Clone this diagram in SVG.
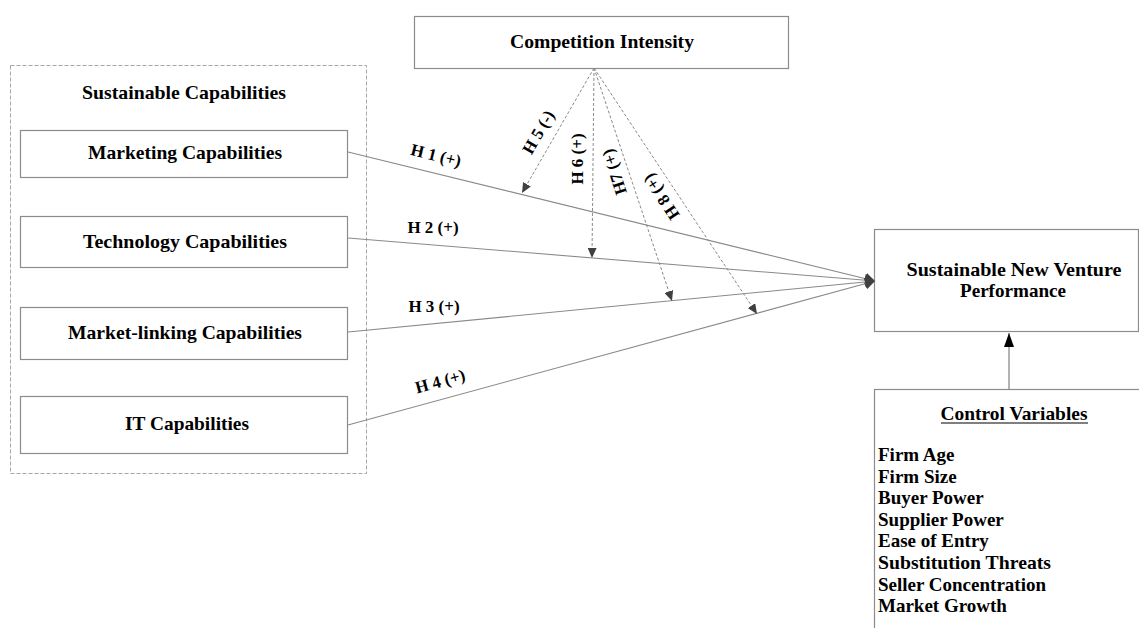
<svg xmlns="http://www.w3.org/2000/svg" width="1139" height="628" viewBox="0 0 1139 628">
<style>
  text { font-family: "Liberation Serif", "Times New Roman", serif; font-weight: bold; fill: #000; }
  .t { font-size: 19px; text-anchor: middle; }
  .h { font-size: 17px; text-anchor: middle; }
  .cv { font-size: 19px; }
  .box { fill: #fff; stroke: #8c8c8c; stroke-width: 1.2; }
  .group { fill: none; stroke: #a6a6a6; stroke-width: 1; stroke-dasharray: 4 2; }
  .main { stroke: #8a8a8a; stroke-width: 1.1; fill: none; marker-end: url(#ah); }
  .mod { stroke: #8a8a8a; stroke-width: 1; stroke-dasharray: 3 2; fill: none; marker-end: url(#ahs); }
  .ctl { stroke: #808080; stroke-width: 1.2; fill: none; marker-end: url(#ahb); }
</style>
<defs>
  <marker id="ah" viewBox="0 0 10 12" refX="10" refY="6" markerWidth="10" markerHeight="12" markerUnits="userSpaceOnUse" orient="auto">
    <path d="M0,0 L10,6 L0,12 z" fill="#404040"/>
  </marker>
  <marker id="ahs" viewBox="0 0 10 9" refX="10" refY="4.5" markerWidth="10" markerHeight="9" markerUnits="userSpaceOnUse" orient="auto">
    <path d="M0,0 L10,4.5 L0,9 z" fill="#404040"/>
  </marker>
  <marker id="ahb" viewBox="0 0 14 10" refX="14" refY="5" markerWidth="14" markerHeight="10" markerUnits="userSpaceOnUse" orient="auto">
    <path d="M0,0 L14,5 L0,10 z" fill="#000"/>
  </marker>
</defs>
<rect width="1139" height="628" fill="#fff"/>

<g id="sustainable-capabilities">
  <rect class="group" x="10.5" y="65.5" width="356" height="408"/>
  <text class="t" x="184" y="99" textLength="204" lengthAdjust="spacingAndGlyphs">Sustainable Capabilities</text>
</g>
<g id="marketing">
  <rect class="box" x="20.5" y="130.5" width="327" height="47"/>
  <text class="t" x="185" y="159" textLength="194" lengthAdjust="spacingAndGlyphs">Marketing Capabilities</text>
</g>
<g id="technology">
  <rect class="box" x="20.5" y="216.5" width="327" height="51"/>
  <text class="t" x="185" y="248" textLength="204" lengthAdjust="spacingAndGlyphs">Technology Capabilities</text>
</g>
<g id="market-linking">
  <rect class="box" x="20.5" y="307.5" width="327" height="52"/>
  <text class="t" x="185" y="339" textLength="234" lengthAdjust="spacingAndGlyphs">Market-linking Capabilities</text>
</g>
<g id="it">
  <rect class="box" x="20.5" y="396.5" width="327" height="57"/>
  <text class="t" x="187" y="430" textLength="124" lengthAdjust="spacingAndGlyphs">IT Capabilities</text>
</g>
<g id="competition">
  <rect class="box" x="414.5" y="16.5" width="374" height="52"/>
  <text class="t" x="602" y="48" textLength="184" lengthAdjust="spacingAndGlyphs">Competition Intensity</text>
</g>
<g id="performance">
  <rect class="box" x="874.5" y="229.5" width="264" height="102"/>
  <text class="t" x="1014" y="276" textLength="215" lengthAdjust="spacingAndGlyphs">Sustainable New Venture</text>
  <text class="t" x="1013" y="297" textLength="106" lengthAdjust="spacingAndGlyphs">Performance</text>
</g>
<g id="control-variables">
  <rect class="box" x="874.5" y="389.5" width="300" height="300"/>
  <text class="t" x="1014" y="420" textLength="147" lengthAdjust="spacingAndGlyphs">Control Variables</text>
  <line x1="941" y1="423" x2="1088" y2="423" stroke="#000" stroke-width="1.2"/>
  <text class="cv" x="878" y="461">Firm Age</text>
  <text class="cv" x="878" y="482.6">Firm Size</text>
  <text class="cv" x="878" y="504.2">Buyer Power</text>
  <text class="cv" x="878" y="525.8">Supplier Power</text>
  <text class="cv" x="878" y="547.4">Ease of Entry</text>
  <text class="cv" x="878" y="569" textLength="173" lengthAdjust="spacingAndGlyphs">Substitution Threats</text>
  <text class="cv" x="878" y="590.6">Seller Concentration</text>
  <text class="cv" x="878" y="612.2">Market Growth</text>
</g>

<g id="connectors">
  <line class="main" x1="348" y1="152" x2="875" y2="281"/>
  <line class="main" x1="348" y1="238" x2="875" y2="281"/>
  <line class="main" x1="348" y1="332" x2="875" y2="281"/>
  <line class="main" x1="348" y1="425" x2="875" y2="281"/>
  <line class="mod" x1="594" y1="68" x2="522" y2="193"/>
  <line class="mod" x1="594" y1="68" x2="592" y2="258"/>
  <line class="mod" x1="594" y1="68" x2="672" y2="301"/>
  <line class="mod" x1="594" y1="68" x2="757" y2="314"/>
  <line class="ctl" x1="1009" y1="389" x2="1009" y2="333"/>
  <text class="h" transform="translate(436,155) rotate(13.8)" y="6">H 1 (+)</text>
  <text class="h" x="433" y="233">H 2 (+)</text>
  <text class="h" x="434" y="312">H 3 (+)</text>
  <text class="h" transform="translate(440,381) rotate(-15.3)" y="6">H 4 (+)</text>
  <text class="h" transform="translate(538,132) rotate(-60)" y="6">H 5 (-)</text>
  <text class="h" transform="translate(577,159) rotate(-90)" y="6">H 6 (+)</text>
  <text class="h" transform="translate(614,172) rotate(-108)" y="6">H7 (+)</text>
  <text class="h" transform="translate(661,197) rotate(-123.5)" y="6">H 8 (+)</text>
</g>
</svg>
